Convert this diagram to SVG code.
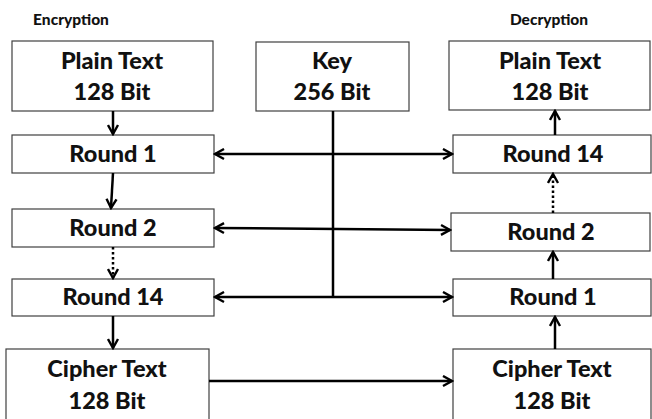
<svg xmlns="http://www.w3.org/2000/svg" width="652" height="419" viewBox="0 0 652 419">
  <style>
    .box { fill: #ffffff; stroke: #404040; stroke-width: 1.2; }
    .lbl { font-family: Lato, "Open Sans", "Liberation Sans", sans-serif; font-weight: 900; font-size: 23.5px; fill: #111111; text-anchor: middle; }
    .hdr { font-family: Lato, "Open Sans", "Liberation Sans", sans-serif; font-weight: 900; font-size: 15.5px; fill: #111111; text-anchor: middle; }
    .wire { fill: none; stroke: #000000; stroke-width: 2.5; }
    .dot { stroke-dasharray: 2.5 2.5; }
  </style>
  <defs>
    <marker id="head" viewBox="0 0 13 13" refX="11" refY="6.5" markerWidth="13" markerHeight="13" markerUnits="userSpaceOnUse" orient="auto-start-reverse">
      <path d="M2,1.5 L11,6.5 L2,11.5" fill="none" stroke="#000000" stroke-width="2.4"/>
    </marker>
  </defs>

  <rect width="652" height="419" fill="#ffffff"/>

  <text class="hdr" x="71" y="25">Encryption</text>
  <text class="hdr" x="549" y="25">Decryption</text>

  <!-- encryption column -->
  <g id="enc-plain">
    <rect class="box" x="12" y="41" width="201" height="70"/>
    <text class="lbl" x="112" y="69">Plain Text</text>
    <text class="lbl" x="112" y="100">128 Bit</text>
  </g>
  <g id="enc-round1">
    <rect class="box" x="12" y="135" width="202" height="38"/>
    <text class="lbl" x="113" y="162">Round 1</text>
  </g>
  <g id="enc-round2">
    <rect class="box" x="12" y="209" width="202" height="38"/>
    <text class="lbl" x="113" y="236">Round 2</text>
  </g>
  <g id="enc-round14">
    <rect class="box" x="12" y="279" width="202" height="37"/>
    <text class="lbl" x="113" y="305">Round 14</text>
  </g>
  <g id="enc-cipher">
    <rect class="box" x="6" y="349" width="203" height="80"/>
    <text class="lbl" x="107" y="377">Cipher Text</text>
    <text class="lbl" x="107" y="409">128 Bit</text>
  </g>

  <!-- key -->
  <g id="key">
    <rect class="box" x="256" y="42" width="153" height="69"/>
    <text class="lbl" x="332" y="69">Key</text>
    <text class="lbl" x="332" y="100">256 Bit</text>
  </g>

  <!-- decryption column -->
  <g id="dec-plain">
    <rect class="box" x="449" y="41" width="201" height="69"/>
    <text class="lbl" x="550" y="69">Plain Text</text>
    <text class="lbl" x="550" y="100">128 Bit</text>
  </g>
  <g id="dec-round14">
    <rect class="box" x="453" y="135" width="198" height="38"/>
    <text class="lbl" x="553" y="162">Round 14</text>
  </g>
  <g id="dec-round2">
    <rect class="box" x="451" y="213" width="199" height="38"/>
    <text class="lbl" x="551" y="240">Round 2</text>
  </g>
  <g id="dec-round1">
    <rect class="box" x="453" y="279" width="198" height="37"/>
    <text class="lbl" x="553" y="305">Round 1</text>
  </g>
  <g id="dec-cipher">
    <rect class="box" x="453" y="349" width="198" height="80"/>
    <text class="lbl" x="552" y="377">Cipher Text</text>
    <text class="lbl" x="552" y="409">128 Bit</text>
  </g>

  <!-- connectors -->
  <g id="connectors">
    <!-- encryption flow -->
    <line class="wire" x1="113" y1="111" x2="113" y2="134" marker-end="url(#head)"/>
    <line class="wire" x1="113" y1="173" x2="111" y2="208" marker-end="url(#head)"/>
    <line class="wire dot" x1="113" y1="247" x2="113" y2="278" marker-end="url(#head)"/>
    <line class="wire" x1="113" y1="316" x2="113" y2="348" marker-end="url(#head)"/>
    <!-- cipher text handed over -->
    <line class="wire" x1="209" y1="381" x2="452" y2="381" marker-end="url(#head)"/>
    <!-- decryption flow -->
    <line class="wire" x1="555" y1="349" x2="555" y2="317" marker-end="url(#head)"/>
    <line class="wire" x1="553" y1="279" x2="553" y2="252" marker-end="url(#head)"/>
    <line class="wire dot" x1="553" y1="213" x2="553" y2="174" marker-end="url(#head)"/>
    <line class="wire" x1="555" y1="135" x2="555" y2="111" marker-end="url(#head)"/>
    <!-- key distribution -->
    <line class="wire" x1="333" y1="111" x2="333" y2="297"/>
    <line class="wire" x1="215" y1="154" x2="452" y2="154" marker-start="url(#head)" marker-end="url(#head)"/>
    <line class="wire" x1="215" y1="228" x2="450" y2="230" marker-start="url(#head)" marker-end="url(#head)"/>
    <line class="wire" x1="215" y1="297" x2="452" y2="297" marker-start="url(#head)" marker-end="url(#head)"/>
  </g>
</svg>
